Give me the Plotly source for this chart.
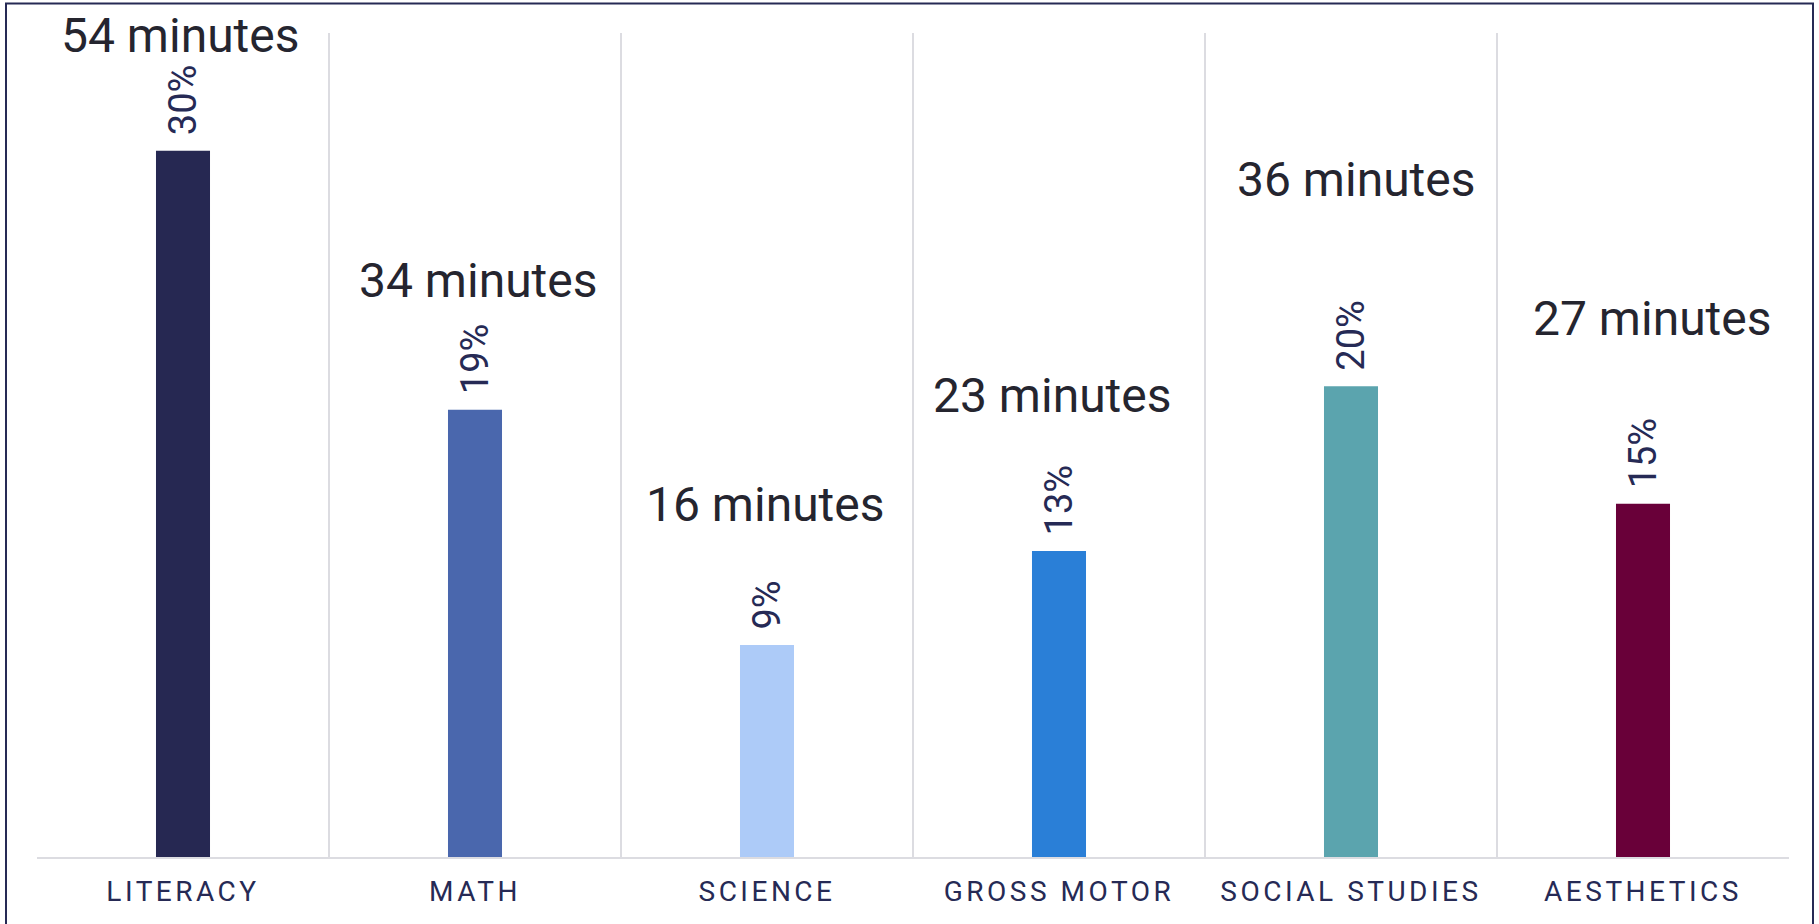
import plotly.graph_objects as go

# Share of the day per subject, with the minutes spent on each
categories = ["LITERACY", "MATH", "SCIENCE", "GROSS MOTOR", "SOCIAL STUDIES", "AESTHETICS"]
share_pct = [30, 19, 9, 13, 20, 15]
minutes = [54, 34, 16, 23, 36, 27]
bar_colors = ["#262852", "#4a67ad", "#adcbf8", "#2a7fd7", "#5ba4ae", "#690039"]

# Placement of the minute captions: height in axis units, sideways nudge in px
minute_label_y = [34.9, 24.5, 14.98, 19.6, 28.78, 22.88]
minute_label_dx = [-3, 3, -2, -7, 5, 9]

W, H = 1819, 924
ML, MR, MT, MB = 37, 30, 33, 67

fig = go.Figure(
    go.Bar(
        x=categories,
        y=share_pct,
        marker=dict(color=bar_colors, line=dict(width=0)),
        width=0.185,
        hoverinfo="skip",
    )
)

annotations = []
for cat, pct in zip(categories, share_pct):
    annotations.append(dict(
        x=cat, y=pct, xref="x", yref="y",
        text=f"{pct}%", textangle=-90,
        showarrow=False, yanchor="bottom", yshift=13,
        font=dict(family="Roboto", size=38, color="#262a55"),
    ))
for cat, mins, ly, dx in zip(categories, minutes, minute_label_y, minute_label_dx):
    annotations.append(dict(
        x=cat, y=ly, xref="x", yref="y",
        text=f"{mins} minutes",
        showarrow=False, yanchor="middle", xshift=dx,
        font=dict(family="Roboto", size=48, color="#25252f"),
    ))

pw = W - ML - MR
ph = H - MT - MB
def px_x(v):
    return (v - ML) / pw
def px_y(v):
    return (H - MB - v) / ph

fig.update_layout(
    width=W, height=H,
    margin=dict(l=ML, r=MR, t=MT, b=MB),
    paper_bgcolor="white", plot_bgcolor="white",
    showlegend=False,
    annotations=annotations,
    shapes=[dict(
        type="rect", xref="paper", yref="paper",
        x0=px_x(6), x1=px_x(1813), y0=px_y(935), y1=px_y(3.5),
        line=dict(color="#262a55", width=2), fillcolor="rgba(0,0,0,0)",
        layer="above",
    )],
)
fig.update_xaxes(
    tickson="boundaries", showgrid=True, gridcolor="#dcdce1", gridwidth=2,
    showline=True, linecolor="#dcdce1", linewidth=2,
    ticks="", tickfont=dict(family="Roboto", size=28, color="#262a55"),
    ticklabelstandoff=8,
)
fig.update_yaxes(range=[0, 35], visible=False, showgrid=False, zeroline=False)

letter_spacing_js = """
document.querySelectorAll('.xtick text').forEach(function(t){ t.style.letterSpacing = '3.5px'; });
"""

fig.write_html("out.html", post_script=letter_spacing_js)
